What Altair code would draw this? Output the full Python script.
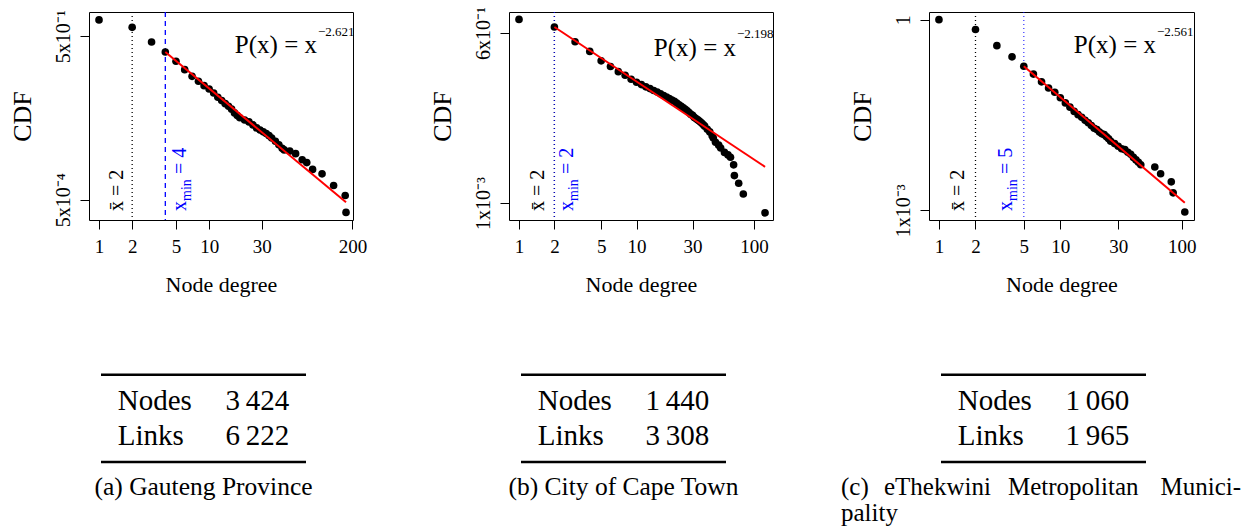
import altair as alt
import pandas as pd

FONT = "Liberation Serif"
BLUE = "#0000FF"
RED = "#FF0000"

# ---------------- data ----------------
# (a) Gauteng Province
deg_a = [1, 2, 3, 4, 5, 6, 7, 8, 9, 10, 11, 12, 13, 14, 15, 16, 17, 18, 19, 21, 23, 25,
         27, 29, 31, 33, 35, 37, 40, 43, 46, 48, 54, 61, 70, 77, 87, 106, 135, 172, 175]
cdf_a = [1.0, 0.73, 0.393, 0.258, 0.174, 0.122, 0.092, 0.0747, 0.062, 0.054, 0.0456, 0.038,
         0.033, 0.029, 0.026, 0.023, 0.0196, 0.0175, 0.016, 0.0145, 0.0134, 0.0118, 0.0104,
         0.0095, 0.0088, 0.0082, 0.0075, 0.0068, 0.0059, 0.0051, 0.0044, 0.0041, 0.0039,
         0.0035, 0.0027, 0.0024, 0.0018, 0.00149, 0.00091, 0.000596, 0.000292]
fit_a_x = [4, 175]
fit_a_y = [0.258, 0.00045]

# (b) City of Cape Town
deg_b = [1, 2, 3, 4, 5, 6, 7, 8, 9, 10, 11, 12, 13, 14, 15, 16, 17, 18, 19, 20, 21, 22, 23,
         24, 25, 26, 27, 28, 29, 30, 31, 32, 33, 34, 35, 36, 37, 38, 40, 42, 44, 45, 47, 50,
         52, 56, 60, 63, 67, 68, 74, 81, 124]
cdf_b = [1.0, 0.75, 0.43, 0.30, 0.21, 0.17, 0.14, 0.122, 0.105, 0.094, 0.086, 0.079,
         0.074, 0.069, 0.065, 0.061, 0.057, 0.054, 0.051, 0.048, 0.046, 0.043, 0.040, 0.038,
         0.036, 0.034, 0.032, 0.030, 0.028, 0.027, 0.025, 0.024, 0.023, 0.022, 0.021, 0.020,
         0.019, 0.018, 0.016, 0.0145, 0.0125, 0.0115, 0.0098, 0.0088, 0.0079, 0.0067, 0.0061,
         0.0056, 0.0042, 0.0028, 0.0021, 0.0014, 0.00069]
fit_b_x = [2, 124]
fit_b_y = [0.75, 0.0039]

# (c) eThekwini Metropolitan Municipality
deg_c = [1, 2, 3, 4, 5, 6, 7, 8, 9, 10, 11, 12, 13, 14, 15, 16, 17, 18, 19, 20, 21, 22, 23,
         24, 25, 26, 28, 30, 32, 34, 36, 38, 40, 42, 44, 46, 60, 67, 82, 85, 106]
cdf_c = [1.0, 0.70, 0.39, 0.26, 0.185, 0.139, 0.105, 0.084, 0.072, 0.059, 0.049, 0.042,
         0.036, 0.032, 0.029, 0.026, 0.0238, 0.0215, 0.0195, 0.0187, 0.017, 0.016, 0.0155,
         0.0143, 0.0133, 0.0122, 0.0112, 0.0102, 0.0093, 0.009, 0.0082, 0.0076, 0.0068,
         0.0062, 0.0057, 0.0052, 0.0048, 0.00375, 0.0028, 0.00188, 0.00094]
fit_c_x = [5, 106]
fit_c_y = [0.185, 0.00131]

# axis ticks and labels
xticks_a = [1, 2, 5, 10, 30, 200]
xticks_b = [1, 2, 5, 10, 30, 100]
xticks_c = [1, 2, 5, 10, 30, 100]
yticks_a = [0.5, 0.0005]
ylabels_a = ["5x10\u207b\u00b9", "5x10\u207b\u2074"]
yticks_b = [0.6, 0.001]
ylabels_b = ["6x10\u207b\u00b9", "1x10\u207b\u00b3"]
yticks_c = [1, 0.001]
ylabels_c = ["1", "1x10\u207b\u00b3"]

# exponents, mean degree and x_min
exps = ["\u22122.621", "\u22122.198", "\u22122.561"]
xbar = [2, 2, 2]
xmins = [4, 2, 5]

# table values
table_rows = ["Nodes", "Links"]
nodes = ["3\u2009424", "1\u2009440", "1\u2009060"]
links = ["6\u2009222", "3\u2009308", "1\u2009965"]
captions = ["(a) Gauteng Province", "(b) City of Cape Town",
            "(c) eThekwini Metropolitan Munici-"]

H = 208


def label_expr(vals, labs):
    mid = (vals[0] * vals[1]) ** 0.5
    return f"datum.value >= {mid} ? '{labs[0]}' : '{labs[1]}'"


def panel(deg, cdf, fx, fy, xdom, ydom, xt, yt, yl, xb, xm, xm_style, xb_dy, xm_dy,
          exp, eq_x, eq_y, sup_y, n_val, l_val, cap, width, cap_c=False):
    xs = alt.Scale(type="log", domain=xdom, nice=False)
    ys = alt.Scale(type="log", domain=ydom, nice=False)
    xaxis = alt.Axis(values=xt, format="d", tickSize=9, labelPadding=8, domain=False,
                     grid=False, labelFont=FONT, labelFontSize=19, labelColor="black",
                     tickColor="black", title="Node degree", titleFont=FONT,
                     titleFontSize=22, titleFontWeight="normal", titleColor="black",
                     titlePadding=18, labelFlush=False, labelOverlap=False)
    yaxis = alt.Axis(values=yt, labelExpr=label_expr(yt, yl), tickSize=9, labelPadding=11,
                     labelAngle=270, labelAlign="center", labelBaseline="alphabetic",
                     domain=False, grid=False, labelFont=FONT, labelFontSize=20,
                     labelColor="black", tickColor="black", title="CDF", titleFont=FONT,
                     titleFontSize=26, titleFontWeight="normal", titleColor="black",
                     titlePadding=18, labelFlush=False, labelOverlap=False)

    pts = pd.DataFrame({"deg": deg, "cdf": cdf})
    fit = pd.DataFrame({"deg": fx, "cdf": fy})
    xb_df = pd.DataFrame({"v": [xb]})
    xm_df = pd.DataFrame({"v": [xm]})

    def X(field):
        return alt.X(field, scale=xs, axis=xaxis)

    # invisible copy of the points that carries the y axis
    axes_layer = alt.Chart(pts).mark_circle(size=55, opacity=0).encode(
        x=X("deg:Q"), y=alt.Y("cdf:Q", scale=ys, axis=yaxis))

    xbar_rule = alt.Chart(xb_df).mark_rule(
        color="black", strokeDash=[1, 3], strokeWidth=1.3).encode(x=X("v:Q"))
    if xm_style == "dashed":
        xmin_rule = alt.Chart(xm_df).mark_rule(
            color=BLUE, strokeDash=[5, 4], strokeWidth=1.3).encode(x=X("v:Q"))
    else:
        xmin_rule = alt.Chart(xm_df).mark_rule(
            color=BLUE, strokeDash=[1, 3], strokeWidth=1.3, opacity=0.75).encode(x=X("v:Q"))

    points = alt.Chart(pts).mark_circle(size=58, color="black", opacity=1).encode(
        x=X("deg:Q"), y=alt.Y("cdf:Q", scale=ys, axis=None))
    fitline = alt.Chart(fit).mark_line(color=RED, strokeWidth=2).encode(
        x=X("deg:Q"), y=alt.Y("cdf:Q", scale=ys, axis=None))

    xbar_lab = alt.Chart(xb_df).mark_text(
        angle=270, align="left", baseline="alphabetic", dy=xb_dy, font=FONT,
        fontSize=20, color="black", text="x\u0304 = " + str(xb)).encode(
        x=X("v:Q"), y=alt.value(199))
    xm1 = alt.Chart(xm_df).mark_text(
        angle=270, align="left", baseline="alphabetic", dy=xm_dy, font=FONT,
        fontSize=20, color=BLUE, text="x").encode(x=X("v:Q"), y=alt.value(199))
    xm2 = alt.Chart(xm_df).mark_text(
        angle=270, align="left", baseline="alphabetic", dx=10, dy=xm_dy + 5, font=FONT,
        fontSize=14, color=BLUE, text="min").encode(x=X("v:Q"), y=alt.value(199))
    xm3 = alt.Chart(xm_df).mark_text(
        angle=270, align="left", baseline="alphabetic", dx=37, dy=xm_dy, font=FONT,
        fontSize=20, color=BLUE, text="= " + str(xm)).encode(x=X("v:Q"), y=alt.value(199))

    eq_main = alt.Chart(xb_df).mark_text(
        align="right", baseline="alphabetic", font=FONT, fontSize=25, color="black",
        text="P(x) = x").encode(x=alt.value(eq_x), y=alt.value(eq_y))
    eq_sup = alt.Chart(xb_df).mark_text(
        align="left", baseline="alphabetic", font=FONT, fontSize=13, color="black",
        text=exp).encode(x=alt.value(eq_x + 1), y=alt.value(sup_y))

    # table below the plot
    tdf = pd.DataFrame({"row": table_rows, "val": [n_val, l_val]})
    row_scale = alt.Scale(type="point", domain=table_rows, range=[397.7, 432.7], padding=0)
    one = pd.DataFrame({"k": [0]})
    t_lab = alt.Chart(tdf).mark_text(align="left", baseline="alphabetic", font=FONT,
                                     fontSize=29, color="black").encode(
        x=alt.value(28.7), y=alt.Y("row:N", scale=row_scale, axis=None), text="row:N")
    t_val = alt.Chart(tdf).mark_text(align="right", baseline="alphabetic", font=FONT,
                                     fontSize=29, color="black").encode(
        x=alt.value(200.3), y=alt.Y("row:N", scale=row_scale, axis=None), text="val:N")
    top_rule = alt.Chart(one).mark_rule(color="black", strokeWidth=2.4).encode(
        x=alt.value(12), x2=alt.value(217), y=alt.value(362.7))
    bot_rule = alt.Chart(one).mark_rule(color="black", strokeWidth=2.4).encode(
        x=alt.value(12), x2=alt.value(217), y=alt.value(450))

    layers = [axes_layer, xbar_rule, xmin_rule, points, fitline, xbar_lab, xm1, xm2, xm3,
              eq_main, eq_sup, top_rule, bot_rule, t_lab, t_val]
    if not cap_c:
        layers.append(alt.Chart(one).mark_text(
            align="center", baseline="alphabetic", font=FONT, fontSize=25.5,
            color="black", text=cap).encode(x=alt.value(114.5), y=alt.value(482.7)))
    else:
        words = cap.split(" ")
        wx = [-88, -45, 79, 312]
        walign = ["left", "left", "left", "right"]
        for w, xx, al in zip(words, wx, walign):
            layers.append(alt.Chart(one).mark_text(
                align=al, baseline="alphabetic", font=FONT, fontSize=25, color="black",
                text=w).encode(x=alt.value(xx), y=alt.value(482.7)))
        layers.append(alt.Chart(one).mark_text(
            align="left", baseline="alphabetic", font=FONT, fontSize=25, color="black",
            text="pality").encode(x=alt.value(-88), y=alt.value(508.7)))
    return alt.layer(*layers).resolve_scale(y="independent").properties(
        width=width, height=H, view=alt.ViewBackground(stroke="black", strokeWidth=1))


p1 = panel(deg_a, cdf_a, fit_a_x, fit_a_y, [0.811, 202.5], [2.12e-4, 1.396], xticks_a,
           yticks_a, ylabels_a, xbar[0], xmins[0], "dashed", -9, 21, exps[0], 228, 41, 24,
           nodes[0], links[0], captions[0], 264)
p2 = panel(deg_b, cdf_b, fit_b_x, fit_b_y, [0.822, 144.9], [5.27e-4, 1.32], xticks_b,
           yticks_b, ylabels_b, xbar[1], xmins[1], "dotted", -10, 19, exps[1], 227, 44, 26,
           nodes[1], links[1], captions[1], 264)
p3 = panel(deg_c, cdf_c, fit_c_x, fit_c_y, [0.828, 126.2], [7.03e-4, 1.32], xticks_c,
           yticks_c, ylabels_c, xbar[2], xmins[2], "dotted", -11, -12, exps[2], 227, 41, 24,
           nodes[2], links[2], captions[2], 265, cap_c=True)

chart = alt.hconcat(p1, p2, p3, spacing=156, bounds="flush").properties(
    padding={"left": 0, "top": -3, "right": 0, "bottom": 0}
).configure_view(strokeWidth=0).configure_axis(tickWidth=1)

chart.save("out.html", embed_options={"renderer": "svg", "actions": False})
